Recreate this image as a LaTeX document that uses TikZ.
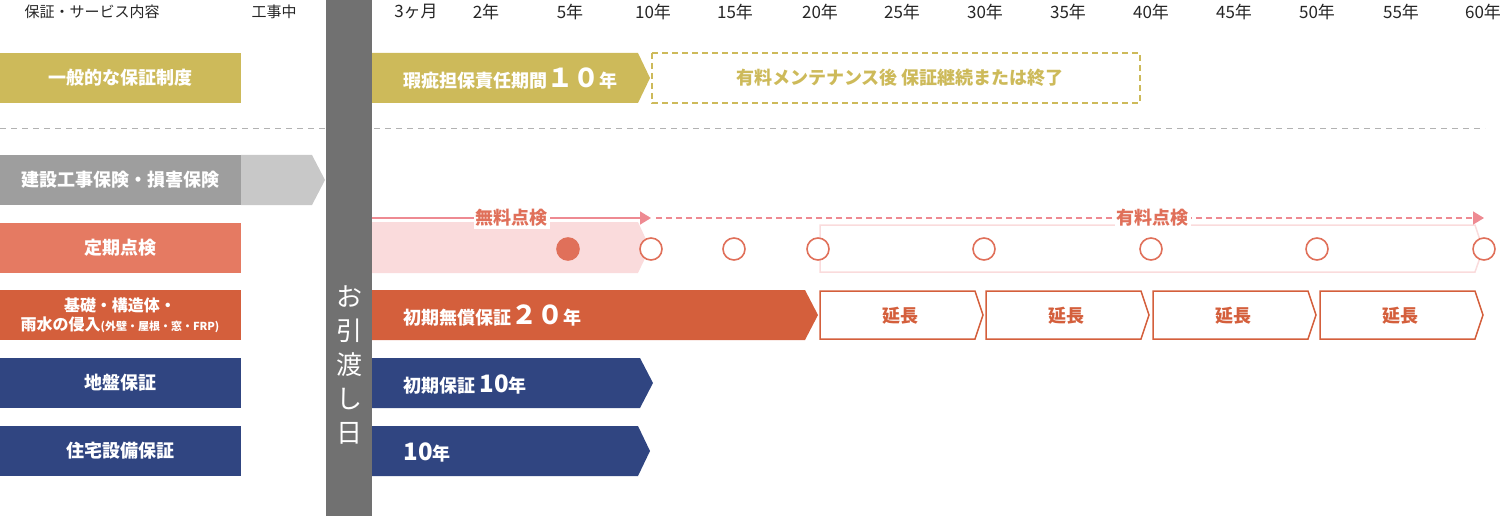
\documentclass[tikz,border=0pt]{standalone}
\usepackage{fontspec}
\setmainfont{Noto Sans CJK JP}
\newfontfamily\jpb{Noto Sans CJK JP}[BoldFont=* Bold]
\usetikzlibrary{arrows.meta}
\definecolor{gold}{HTML}{CDBA5A}
\definecolor{gdark}{HTML}{9E9E9E}
\definecolor{glight}{HTML}{C8C8C8}
\definecolor{bar}{HTML}{717171}
\definecolor{salmon}{HTML}{E57A62}
\definecolor{pinkf}{HTML}{FADBDC}
\definecolor{pinkl}{HTML}{EE8A92}
\definecolor{orng}{HTML}{D45F3C}
\definecolor{circ}{HTML}{E0705A}
\definecolor{navy}{HTML}{304581}
\tikzset{
 hdr/.style={font=\fontsize{15}{15}\selectfont, text=black!85},
 lbl/.style={font=\bfseries\fontsize{18}{20}\selectfont, text=white, align=center},
 atxt/.style={font=\bfseries\fontsize{18}{20}\selectfont, text=white, anchor=west},
 ck/.style={circle, draw=circ, line width=1.6pt, fill=white, minimum size=22pt, inner sep=0pt},
 ext/.style={draw=orng, line width=1.5pt, fill=white},
}
\begin{document}
\begin{tikzpicture}[x=1pt,y=-1pt]
\useasboundingbox (0,0) rectangle (1510,516);
% header
\node[hdr] (h0) at (92,12) {保証・サービス内容};
\node[hdr] (h1) at (274,12) {工事中};
\foreach \x/\t [count=\i] in {416/3ヶ月,486/2年,570/5年,653/10年,735/15年,820/20年,902/25年,985/30年,1068/35年,1151/40年,1234/45年,1317/50年,1401/55年,1483/60年}
  \node[hdr,font=\fontsize{17}{17}\selectfont] (t\i) at (\x,12) {\t};
% dashed separator
\draw[gray!60, dashed, line width=1pt, dash pattern=on 6pt off 5pt] (0,129) coordinate (s0) -- (1485,129) coordinate (s1);
% row 1
\fill[gold] (0,53) rectangle (241,103);
\node[lbl] (r1) at (120,78) {一般的な保証制度};
\fill[gold] (372,53) -- (638,53) -- (650,78) -- (638,103) -- (372,103) -- cycle;
\node[atxt] (a1) at (400,79) {瑕疵担保責任期間\fontsize{26}{26}\selectfont １０\fontsize{18}{20}\selectfont 年};
\draw[gold, line width=1.5pt, dash pattern=on 6pt off 4pt] (652,53) rectangle (1140,103);
\node[font=\bfseries\fontsize{18}{20}\selectfont, text=gold] (a1b) at (900,78) {有料メンテナンス後 保証継続または終了};
% row 2
\fill[gdark] (0,155) rectangle (241,205);
\fill[glight] (241,155) -- (312,155) -- (325,180) -- (312,205) -- (241,205) -- cycle;
\node[lbl] (r2) at (120,180) {建設工事保険・損害保険};
% row 3
\fill[salmon] (0,223) rectangle (241,273);
\node[lbl] (r3) at (120,248) {定期点検};
\fill[pinkf] (372,222) -- (638,222) -- (650,248) -- (638,273) -- (372,273) -- cycle;
\draw[pinkf, line width=1.5pt] (820,225) -- (1475,225) -- (1483,249) -- (1475,272) -- (820,272) -- cycle;
\coordinate (p0) at (372,218); \coordinate (p1) at (651,218); \coordinate (p2) at (656,218); \coordinate (p3) at (1484,218);
\draw[pinkl, line width=1.6pt, -{Triangle[length=11pt,width=13pt]}] (p0) -- node[fill=white, inner sep=2pt, text=circ, font=\bfseries\fontsize{18}{20}\selectfont] (fr) {無料点検} (p1);
\draw[pinkl, line width=1.6pt, dash pattern=on 6pt off 4pt, -{Triangle[length=11pt,width=13pt]}] (p2) -- node[pos=0.6, fill=white, inner sep=2pt, text=circ, font=\bfseries\fontsize{18}{20}\selectfont] (pd) {有料点検} (p3);
\node[ck, fill=circ] (c0) at (568,249) {};
\foreach \x [count=\i] in {651,734,818,984,1151,1317,1484} \node[ck] (c\i) at (\x,249) {};
% row 4
\fill[orng] (0,290) rectangle (241,340);
\node[lbl, font=\bfseries\fontsize{16}{19}\selectfont] (r4) at (120,315) {基礎・構造体・\\雨水の侵入{\fontsize{11}{11}\selectfont (外壁・屋根・窓・FRP)}};
\fill[orng] (372,290) -- (805,290) -- (818,315) -- (805,340) -- (372,340) -- cycle;
\node[atxt] (a4) at (400,316) {初期無償保証\fontsize{26}{26}\selectfont ２０\fontsize{18}{20}\selectfont 年};
\foreach \x [count=\i] in {820,986,1153,1320} {
  \draw[ext] (\x,291) -- (\x+155,291) -- (\x+163,315) -- (\x+155,339) -- (\x,339) -- cycle;
  \node[font=\bfseries\fontsize{18}{20}\selectfont, text=orng] (e\i) at (\x+80,316) {延長};
}
% row 5
\fill[navy] (0,358) rectangle (241,408);
\node[lbl] (r5) at (120,383) {地盤保証};
\fill[navy] (372,358) -- (640,358) -- (653,383) -- (640,408) -- (372,408) -- cycle;
\node[atxt] (a5) at (400,384) {初期保証 {\fontsize{24}{24}\selectfont 10}年};
% row 6
\fill[navy] (0,426) rectangle (241,476);
\node[lbl] (r6) at (120,451) {住宅設備保証};
\fill[navy] (372,426) -- (638,426) -- (650,451) -- (638,476) -- (372,476) -- cycle;
\node[atxt] (a6) at (400,452) {{\fontsize{24}{24}\selectfont 10}年};
% handover bar
\fill[bar] (326,0) rectangle (372,516);
\node[text=white, font=\fontsize{26}{34}\selectfont, align=center] (hd) at (349,365) {お\\引\\渡\\し\\日};
\end{tikzpicture}
\end{document}
